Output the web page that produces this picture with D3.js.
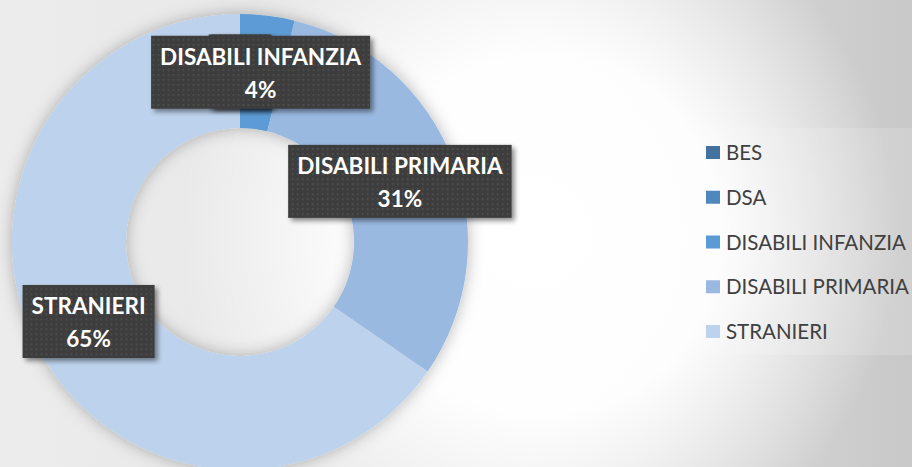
<!DOCTYPE html>
<html>
<head>
<meta charset="utf-8">
<script src="https://cdn.jsdelivr.net/npm/d3@7"></script>
<style>
  body { margin: 0; background: #fff; }
  svg { display: block; }
</style>
</head>
<body>
<div id="chart"></div>
<script>
// data
const categories = ["BES", "DSA", "DISABILI INFANZIA", "DISABILI PRIMARIA", "STRANIERI"];
const values = [0, 0, 5, 40, 85];
const colors = ["#44729e", "#4f88bf", "#5b9bd5", "#9ab9e1", "#bdd2ec"];

const width = 912, height = 467;
const cx = 240, cy = 242,
  outerR = 228, innerR = 114;

const data = categories.map((c, i) => ({name: c, value: values[i], color: colors[i]}));
const total = d3.sum(values);

let svg = d3.select("#chart").append("svg")
  .attr("width", width).attr("height", height)
  .attr("viewBox", [0, 0, width, height]);

const defs = svg.append("defs");

// background: gray to the right, white glow in the middle
let lg = defs.append("linearGradient").attr("id", "bgLin")
  .attr("x1", 0).attr("x2", 1).attr("y1", 0).attr("y2", 0);
lg.append("stop").attr("offset", "0%").attr("stop-color", "#ececec");
lg.append("stop").attr("offset", "60%").attr("stop-color", "#e4e4e4");
lg.append("stop").attr("offset", "100%").attr("stop-color", "#c8c8c8");

let rg = defs.append("radialGradient").attr("id", "bgRad")
  .attr("gradientUnits", "userSpaceOnUse")
  .attr("cx", 540).attr("cy", 235).attr("r", 360);
rg.append("stop").attr("offset", "0%").attr("stop-color", "#fff").attr("stop-opacity", 1);
rg.append("stop").attr("offset", "50%").attr("stop-color", "#fff").attr("stop-opacity", 0.95);
rg.append("stop").attr("offset", "100%").attr("stop-color", "#fff").attr("stop-opacity", 0);

// dotted texture for the label boxes
let pat = defs.append("pattern").attr("id", "dots")
  .attr("patternUnits", "userSpaceOnUse").attr("width", 5).attr("height", 5);
pat.append("rect").attr("width", 5).attr("height", 5).attr("fill", "#3d3d3d");
pat.append("rect").attr("x", 2).attr("y", 2).attr("width", 1.5).attr("height", 1.5).attr("fill", "#575757");

let sh = defs.append("filter").attr("id", "boxShadow")
  .attr("x", "-20%").attr("y", "-20%").attr("width", "140%").attr("height", "150%");
sh.append("feDropShadow").attr("dx", 3).attr("dy", 3).attr("stdDeviation", 2.5)
  .attr("flood-color", "#000").attr("flood-opacity", 0.45);

let glow = defs.append("filter").attr("id", "ringShadow")
  .attr("x", "-20%").attr("y", "-20%").attr("width", "140%").attr("height", "140%");
glow.append("feDropShadow").attr("dx", 0).attr("dy", 0).attr("stdDeviation", 8)
  .attr("flood-color", "#000").attr("flood-opacity", 0.28);

svg.append("rect").attr("width", width).attr("height", height).attr("fill", "url(#bgLin)");
svg.append("rect").attr("width", width).attr("height", height).attr("fill", "url(#bgRad)");

/* donut */
const pie = d3.pie().value(d => d.value).sort(null);
const arc = d3.arc().innerRadius(innerR).outerRadius(outerR);
const labelArc = d3.arc().innerRadius((innerR + outerR) / 2).outerRadius((innerR + outerR) / 2);
const arcs = pie(data);

let ring = svg.append("g")
  .attr("transform", `translate(${cx},${cy})`)
  .attr("filter", "url(#ringShadow)");

ring.selectAll("path")
  .data(arcs)
  .join("path")
  .attr("d", arc)
  .attr("fill", d => d.data.color);

/* data labels: name + percent, centred on the slice */
let labels = svg.append("g").attr("transform", `translate(${cx},${cy})`)
  .style("font-family", "Lato, 'Open Sans', sans-serif")
  .style("font-weight", "bold");

let lab = labels.selectAll(".lab")
  .data(arcs)
  .join("g")
  .attr("class", "lab")
  .attr("transform", d => `translate(${labelArc.centroid(d)})`);

lab.each(function(d) {
  let g = d3.select(this);
  let t1 = g.append("text").attr("text-anchor", "middle").attr("y", -7)
    .attr("fill", "#fff").attr("font-size", 22.5).text(d.data.name);
  let t2 = g.append("text").attr("text-anchor", "middle").attr("y", 25.5)
    .attr("fill", "#fff").attr("font-size", 22.5)
    .text(Math.round(d.data.value / total * 100) + "%");
  let w = Math.max(t1.node().getComputedTextLength(), t2.node().getComputedTextLength()) + 18;
  g.insert("rect", "text")
    .attr("x", -w / 2).attr("y", -36.5)
    .attr("width", w).attr("height", 73)
    .attr("fill", "url(#dots)")
    .attr("filter", "url(#boxShadow)");
  // zero slices: their labels sit hidden under the next box
  if (d.data.value === 0) { t1.remove(); t2.remove(); }
});

/* legend */
let legend = svg.append("g")
  .style("font-family", "Lato, 'Open Sans', sans-serif");

legend.append("rect")
  .attr("x", 704).attr("y", 128).attr("width", 208).attr("height", 227)
  .attr("fill", "#fff").attr("fill-opacity", 0.15);

let ly = d3.scalePoint().domain(categories).range([152.5, 331.5]);

let item = legend.selectAll(".item")
  .data(data)
  .join("g")
  .attr("class", "item")
  .attr("transform", d => `translate(706,${ly(d.name)})`);

item.append("rect")
  .attr("x", 0).attr("y", -6.5).attr("width", 14).attr("height", 13)
  .attr("fill", d => d.color);

item.append("text")
  .attr("x", 20).attr("y", 7.5)
  .attr("fill", "#404040")
  .attr("font-size", 20.5)
  .text(d => d.name);
</script>
</body>
</html>
